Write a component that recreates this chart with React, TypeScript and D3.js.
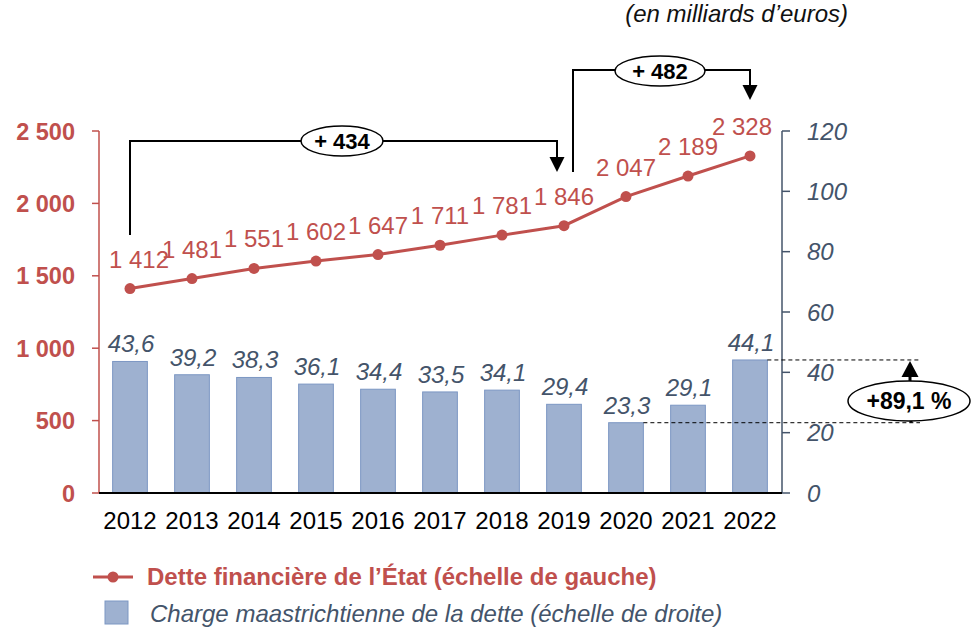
import * as d3 from 'd3';

const years = ['2012', '2013', '2014', '2015', '2016', '2017', '2018', '2019', '2020', '2021', '2022'];
const detteFinanciere = [1412, 1481, 1551, 1602, 1647, 1711, 1781, 1846, 2047, 2189, 2328];
const chargeDette = [43.6, 39.2, 38.3, 36.1, 34.4, 33.5, 34.1, 29.4, 23.3, 29.1, 44.1];
const leftTicks = [0, 500, 1000, 1500, 2000, 2500];
const rightTicks = [0, 20, 40, 60, 80, 100, 120];

const RED = '#C0504D';
const SLATE = '#44546A';
const BAR = '#9EB1D0';
const BAR_EDGE = '#7C97C3';
const FONT = '"Liberation Sans", Arial, sans-serif';

const locale = d3.formatLocale({ decimal: ',', thousands: ' ', grouping: [3], currency: ['', ' €'] });
const fmtInt = locale.format(',d');
const fmtDec = locale.format('.1f');

export default function App() {
  const width = 971;
  const height = 627;

  const x = d3.scaleBand().domain(years).range([99, 781]).padding(0);
  const yL = d3.scaleLinear().domain([0, 2500]).range([493, 131]);
  const yR = d3.scaleLinear().domain([0, 120]).range([493, 131]);
  const cx = (y: string) => (x(y) ?? 0) + x.bandwidth() / 2;
  const barW = x.bandwidth() * 0.56;

  const line = d3
    .line<number>()
    .x((_, i) => cx(years[i]))
    .y((d) => yL(d));

  const last = years.length - 1;
  const x12 = cx(years[0]);
  const x19 = cx('2019');
  const x20 = cx('2020');
  const x22 = cx(years[last]);

  // arrowhead pointing down / up
  const arrowDown = (ax: number, tip: number) =>
    `M${ax - 7.5},${tip - 15} L${ax + 7.5},${tip - 15} L${ax},${tip} Z`;
  const arrowUp = (ax: number, tip: number) =>
    `M${ax - 8.5},${tip + 16} L${ax + 8.5},${tip + 16} L${ax},${tip} Z`;

  return (
    <svg
      width={width}
      height={height}
      style={{ position: 'absolute', left: 0, top: 0, fontFamily: FONT }}
    >
      <rect width={width} height={height} fill="#fff" />

      <text x={848} y={22} textAnchor="end" fontSize={24} fontStyle="italic" fill="#111">
        (en milliards d’euros)
      </text>

      {/* bars (right scale) */}
      {chargeDette.map((v, i) => (
        <g key={years[i]}>
          <rect
            x={cx(years[i]) - barW / 2}
            y={yR(v)}
            width={barW}
            height={yR(0) - yR(v)}
            fill={BAR}
            stroke={BAR_EDGE}
            strokeWidth={1}
          />
          <text
            x={cx(years[i]) + 1}
            y={yR(v) - 9}
            textAnchor="middle"
            fontSize={24}
            fontStyle="italic"
            fill={SLATE}
          >
            {fmtDec(v)}
          </text>
        </g>
      ))}

      {/* left axis */}
      <line x1={99} x2={99} y1={yL(2500)} y2={yL(0)} stroke={RED} strokeWidth={1.5} />
      {leftTicks.map((t) => (
        <g key={t}>
          <line x1={92} x2={99} y1={yL(t)} y2={yL(t)} stroke={RED} strokeWidth={1.5} />
          <text
            x={75}
            y={yL(t) + 8.5}
            textAnchor="end"
            fontSize={23.5}
            fontWeight="bold"
            fill={RED}
          >
            {fmtInt(t)}
          </text>
        </g>
      ))}

      {/* right axis */}
      <line x1={782} x2={782} y1={yR(120)} y2={yR(0)} stroke={SLATE} strokeWidth={1.5} />
      {rightTicks.map((t) => (
        <g key={t}>
          <line x1={782} x2={790} y1={yR(t)} y2={yR(t)} stroke={SLATE} strokeWidth={1.5} />
          <text x={807} y={yR(t) + 8.5} fontSize={24} fontStyle="italic" fill={SLATE}>
            {t}
          </text>
        </g>
      ))}

      {/* bottom axis */}
      <line x1={99} x2={782} y1={493} y2={493} stroke="#000" strokeWidth={2} />
      {years.map((y) => (
        <text key={y} x={cx(y)} y={529} textAnchor="middle" fontSize={24} fill="#000">
          {y}
        </text>
      ))}

      {/* debt line (left scale) */}
      <path d={line(detteFinanciere) ?? ''} fill="none" stroke={RED} strokeWidth={3} />
      {detteFinanciere.map((v, i) => (
        <g key={years[i]}>
          <circle cx={cx(years[i])} cy={yL(v)} r={5.5} fill={RED} />
          <text
            x={cx(years[i]) + (i === 0 ? 9 : i === last ? -8 : 0)}
            y={yL(v) - 21}
            textAnchor="middle"
            fontSize={24}
            fill={RED}
          >
            {fmtInt(v)}
          </text>
        </g>
      ))}

      {/* +434 bracket */}
      <path
        d={`M${x12},235 V141 H${x19 - 7} V160`}
        fill="none"
        stroke="#000"
        strokeWidth={2}
      />
      <path d={arrowDown(x19 - 7, 172)} fill="#000" />
      <ellipse cx={342} cy={141} rx={41} ry={15} fill="#fff" stroke="#000" strokeWidth={1.5} />
      <text x={342} y={149} textAnchor="middle" fontSize={22} fontWeight="bold">
        + 434
      </text>

      {/* +482 bracket */}
      <path
        d={`M${x19 + 9},172 V70 H${x22} V88`}
        fill="none"
        stroke="#000"
        strokeWidth={2}
      />
      <path d={arrowDown(x22, 100)} fill="#000" />
      <ellipse cx={660} cy={71} rx={45} ry={15} fill="#fff" stroke="#000" strokeWidth={1.5} />
      <text x={660} y={79} textAnchor="middle" fontSize={22} fontWeight="bold">
        + 482
      </text>

      {/* +89,1 % */}
      <line
        x1={x22 + barW / 2}
        x2={920}
        y1={yR(44.1)}
        y2={yR(44.1)}
        stroke="#000"
        strokeWidth={1}
        strokeDasharray="4,3"
      />
      <line
        x1={x20 + barW / 2}
        x2={920}
        y1={yR(23.3)}
        y2={yR(23.3)}
        stroke="#000"
        strokeWidth={1}
        strokeDasharray="4,3"
      />
      <line x1={910} x2={910} y1={yR(44.1) + 14} y2={382} stroke="#000" strokeWidth={3} />
      <path d={arrowUp(910, yR(44.1) + 1)} fill="#000" />
      <line x1={911} x2={911} y1={420} y2={yR(23.3)} stroke="#000" strokeWidth={3} />
      <ellipse cx={909} cy={401} rx={61} ry={20} fill="#fff" stroke="#000" strokeWidth={1.5} />
      <text x={909} y={409} textAnchor="middle" fontSize={23} fontWeight="bold">
        +89,1 %
      </text>

      {/* legend */}
      <line x1={93} x2={133} y1={577} y2={577} stroke={RED} strokeWidth={3} />
      <circle cx={113} cy={577} r={5.5} fill={RED} />
      <text x={147} y={585} fontSize={24} fontWeight="bold" fill={RED}>
        Dette financière de l’État (échelle de gauche)
      </text>
      <rect x={105} y={601} width={23} height={23} fill={BAR} stroke={BAR_EDGE} strokeWidth={1} />
      <text x={150} y={622} fontSize={24} fontStyle="italic" fill={SLATE}>
        Charge maastrichtienne de la dette (échelle de droite)
      </text>
    </svg>
  );
}
